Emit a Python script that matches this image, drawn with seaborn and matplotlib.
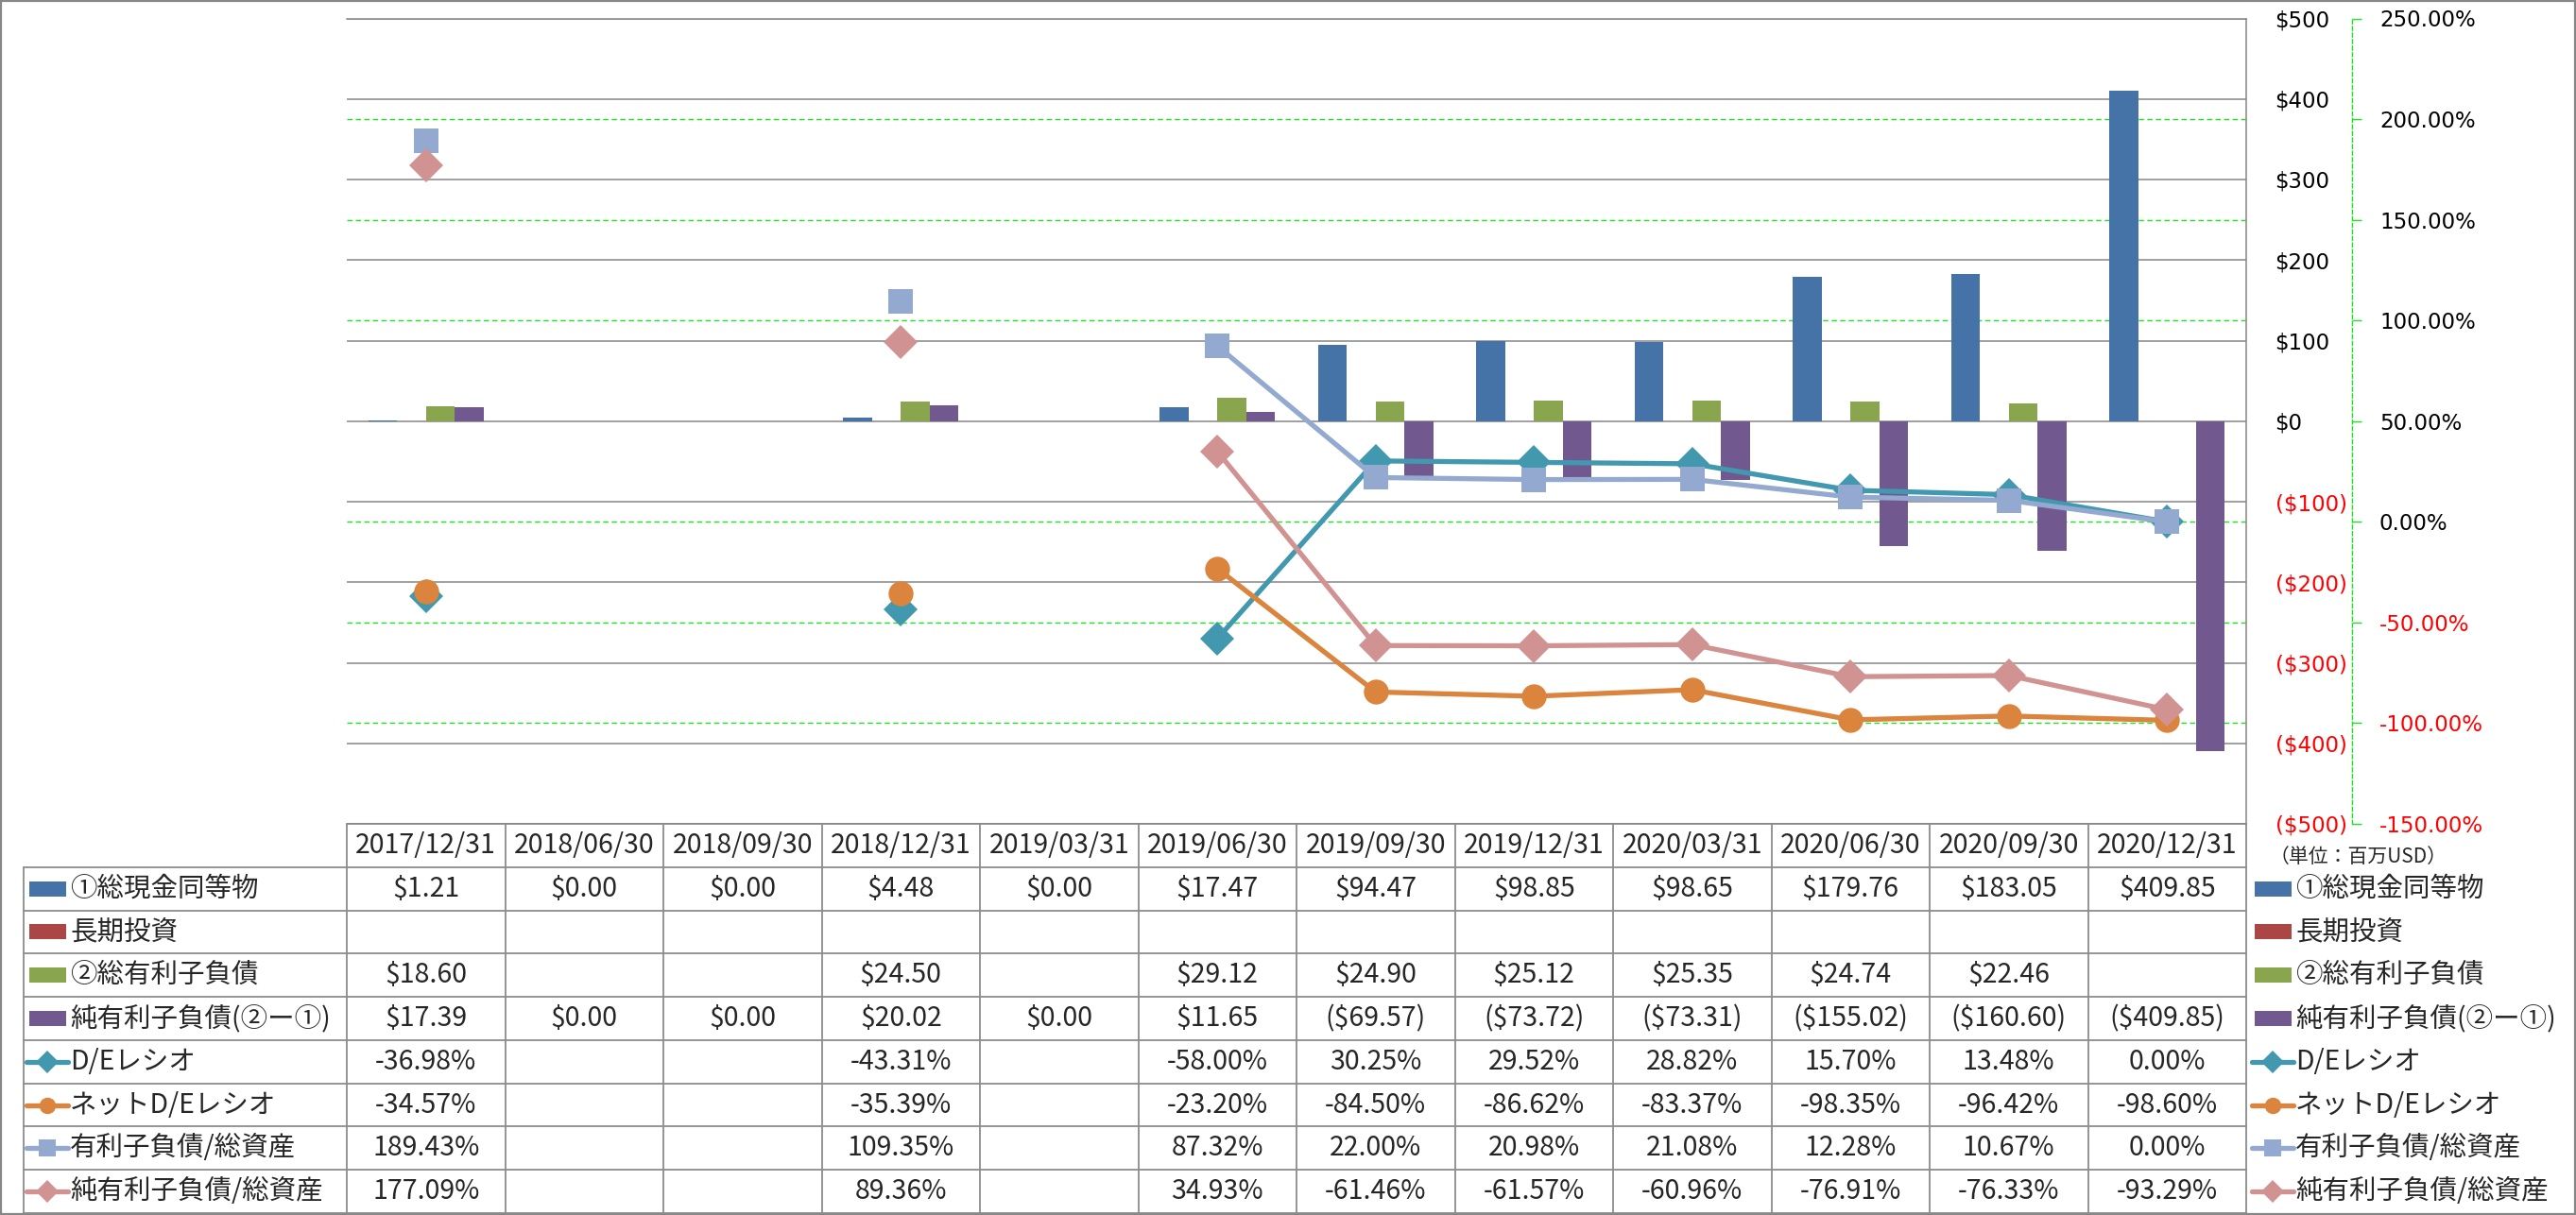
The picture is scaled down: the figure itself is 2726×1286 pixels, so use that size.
import numpy as np
import pandas as pd
import seaborn as sns
import matplotlib.pyplot as plt
from matplotlib.patches import Rectangle

# data (million USD / percent)
dates = ["2017/12/31", "2018/06/30", "2018/09/30", "2018/12/31", "2019/03/31", "2019/06/30",
         "2019/09/30", "2019/12/31", "2020/03/31", "2020/06/30", "2020/09/30", "2020/12/31"]
nan = np.nan
cash = [1.21, 0.00, 0.00, 4.48, 0.00, 17.47, 94.47, 98.85, 98.65, 179.76, 183.05, 409.85]
long_inv = [nan] * 12
debt = [18.60, nan, nan, 24.50, nan, 29.12, 24.90, 25.12, 25.35, 24.74, 22.46, nan]
net_debt = [17.39, 0.00, 0.00, 20.02, 0.00, 11.65, -69.57, -73.72, -73.31, -155.02, -160.60, -409.85]
de_ratio = [-36.98, nan, nan, -43.31, nan, -58.00, 30.25, 29.52, 28.82, 15.70, 13.48, 0.00]
net_de_ratio = [-34.57, nan, nan, -35.39, nan, -23.20, -84.50, -86.62, -83.37, -98.35, -96.42, -98.60]
debt_assets = [189.43, nan, nan, 109.35, nan, 87.32, 22.00, 20.98, 21.08, 12.28, 10.67, 0.00]
net_debt_assets = [177.09, nan, nan, 89.36, nan, 34.93, -61.46, -61.57, -60.96, -76.91, -76.33, -93.29]

bar_names = ["①総現金同等物", "長期投資", "②総有利子負債", "純有利子負債(②ー①)"]
bar_colors = ["#4572A7", "#AA4643", "#89A54E", "#71588F"]
bar_values = [cash, long_inv, debt, net_debt]

line_names = ["D/Eレシオ", "ネットD/Eレシオ", "有利子負債/総資産", "純有利子負債/総資産"]
line_colors = ["#4198AF", "#DB843D", "#93A9CF", "#D19392"]
line_markers = ["D", "o", "s", "D"]
line_sizes = [18, 19, 19, 18]
line_values = [de_ratio, net_de_ratio, debt_assets, net_debt_assets]

usd_ticks = np.arange(-500, 501, 100)
pct_ticks = np.arange(-150, 251, 50)


def fmt_usd(v):
    if np.isnan(v):
        return ""
    return f"(${-v:,.2f})" if v < 0 else f"${v:,.2f}"


def fmt_pct(v):
    return "" if np.isnan(v) else f"{v:.2f}%"


sns.set_style("white")
plt.rcParams["font.family"] = ["DejaVu Sans", "Noto Sans CJK JP"]
JP = ["Noto Sans CJK JP", "DejaVu Sans"]

W, H = 2726, 1286
fig = plt.figure(figsize=(W / 100, H / 100), dpi=100)
fig.patch.set_facecolor("white")

# layout in pixels
pl, pr, pt, pb = 367, 2377, 19.5, 872
ax = fig.add_axes([pl / W, 1 - pb / H, (pr - pl) / W, (pb - pt) / H])

df_bars = pd.DataFrame({
    "date": np.tile(dates, len(bar_names)),
    "series": np.repeat(bar_names, len(dates)),
    "value": np.concatenate(bar_values),
})
df_bars["value"] = df_bars["value"].fillna(0)
sns.barplot(data=df_bars, x="date", y="value", hue="series", order=dates, hue_order=bar_names,
            palette=bar_colors, width=0.73, saturation=1, errorbar=None, linewidth=0,
            legend=False, ax=ax)

axg = ax.twinx()   # green % gridlines, behind the bars
ax2 = ax.twinx()   # ratio lines, on top
axg.set_zorder(1)
ax.set_zorder(2)
ax2.set_zorder(3)
ax.patch.set_visible(False)

ax.set_xlim(-0.5, 11.5)
ax.set_ylim(-500, 500)
ax.set_xlabel("")
ax.set_ylabel("")
ax.set_xticks([])
ax.yaxis.tick_right()
ax.set_yticks(usd_ticks, [f"(${-t})" if t < 0 else f"${t}" for t in usd_ticks])
ax.tick_params(axis="y", length=0, pad=22, labelsize=16.5)
for t, lab in zip(usd_ticks, ax.get_yticklabels()):
    lab.set_color("#FF0000" if t < 0 else "black")
ax.grid(axis="y", color="#868686", lw=1.1)
ax.grid(axis="x", visible=False)
ax.set_axisbelow(True)
for s in ["left", "bottom"]:
    ax.spines[s].set_visible(False)
for s in ["right", "top"]:
    ax.spines[s].set_color("#868686")
    ax.spines[s].set_linewidth(1.1)

for a in (axg, ax2):
    a.set_ylim(-150, 250)
    for s in ["left", "top", "bottom"]:
        a.spines[s].set_visible(False)

# green gridlines only where no grey $ gridline sits on top of them
axg.set_yticks([t for t in pct_ticks if t not in (-150, 50, 250)])
axg.tick_params(axis="y", length=0, labelright=False)
axg.spines["right"].set_visible(False)
axg.grid(axis="y", color="#1EE61E", lw=1.0, linestyle=(0, (4, 2.5)))

x = np.arange(len(dates))
for vals, c, m, ms in zip(line_values, line_colors, line_markers, line_sizes):
    ax2.plot(x, vals, color=c, marker=m, markersize=ms, markeredgewidth=0, lw=3.8,
             solid_joinstyle="round", clip_on=False)
ax2.set_yticks(pct_ticks, [f"{t:.2f}%" for t in pct_ticks])
ax2.spines["right"].set_position(("outward", 80.6))
ax2.spines["right"].set_color("#1EE61E")
ax2.spines["right"].set_linestyle((0, (3, 2)))
ax2.spines["right"].set_linewidth(1.0)
ax2.tick_params(axis="y", length=7.2, width=1, color="#1EE61E", pad=13.7, labelsize=16.5)
for t, lab in zip(pct_ticks, ax2.get_yticklabels()):
    lab.set_color("#FF0000" if t < 0 else "black")
ax2.grid(False)

# data table below the plot, drawn in pixel coordinates
tab = fig.add_axes([0, 0, 1, 1])
tab.set_zorder(0)
tab.set_xlim(0, W)
tab.set_ylim(H, 0)
tab.axis("off")

col_w = (pr - pl) / len(dates)
row_h = (1284 - pb) / 9
col_x = pl + col_w * np.arange(len(dates) + 1)
row_y = pb + row_h * np.arange(10)
tcol = "#8C8C8C"
lab_left = 25

tab.plot([pl, pr], [row_y[0]] * 2, color=tcol, lw=1.3)
for yy in row_y[1:]:
    tab.plot([lab_left, pr], [yy, yy], color=tcol, lw=1.3)
for xx in col_x:
    tab.plot([xx, xx], [row_y[0], row_y[-1]], color=tcol, lw=1.3)
tab.plot([lab_left, lab_left], [row_y[1], row_y[-1]], color=tcol, lw=1.3)

fs = 20.5
for i, d in enumerate(dates):
    tab.text(col_x[i] + col_w / 2, row_y[0] + row_h / 2, d, ha="center", va="center",
             fontsize=fs, family=JP)

rows = ([(n, c, None, None, v, fmt_usd) for n, c, v in zip(bar_names, bar_colors, bar_values)]
        + [(n, c, m, ms, v, fmt_pct) for n, c, m, ms, v in
           zip(line_names, line_colors, line_markers, line_sizes, line_values)])


def draw_key(x0, yc, color, marker, ms):
    if marker is None:
        tab.add_patch(Rectangle((x0 + 3, yc - 8), 39, 16, color=color, lw=0))
    else:
        tab.plot([x0, x0 + 44], [yc, yc], color=color, lw=3.8, solid_capstyle="round")
        tab.plot([x0 + 22], [yc], color=color, marker=marker, markersize=ms * 0.66,
                 markeredgewidth=0)


for r, (name, color, marker, ms, vals, fmt) in enumerate(rows):
    yc = row_y[r + 1] + row_h / 2
    draw_key(28, yc, color, marker, ms)
    tab.text(74, yc, name, ha="left", va="center", fontsize=fs, family=JP)
    for i, v in enumerate(vals):
        tab.text(col_x[i] + col_w / 2, yc, fmt(v), ha="center", va="center",
                 fontsize=fs, family=JP)
    # legend on the right
    draw_key(2383, yc, color, marker, ms)
    tab.text(2429, yc, name, ha="left", va="center", fontsize=fs, family=JP)

tab.text(2402, 907, "（単位：百万USD）", ha="left", va="center", fontsize=15, family=JP)

# chart border
tab.add_patch(Rectangle((1, 1), W - 2.5, H - 2.5, fill=False, edgecolor="#868686", lw=1.6))

fig.savefig("out.png", dpi=100, facecolor="white")
